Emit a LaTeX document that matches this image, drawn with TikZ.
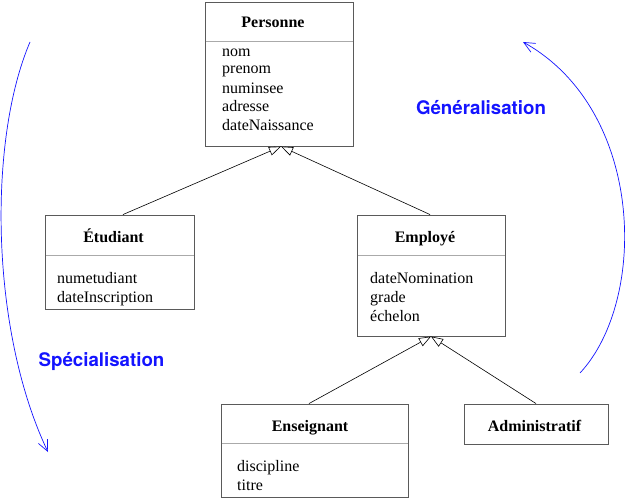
\documentclass[tikz,border=0pt]{standalone}
\usepackage{fontspec}
\setmainfont{Liberation Serif}
\newfontfamily\labelfont{TeX Gyre Heros}
\usetikzlibrary{arrows.meta}
\definecolor{boxgray}{RGB}{90,90,90}
\definecolor{divgray}{RGB}{170,170,170}
\definecolor{arcblue}{RGB}{20,20,255}
\tikzset{
  classbox/.style={draw=boxgray, line width=0.9pt, rectangle, inner sep=0pt},
  divider/.style={draw=divgray, line width=0.7pt},
  classtitle/.style={anchor=base, inner sep=0pt, font=\fontsize{16}{18}\selectfont\bfseries},
  attr/.style={anchor=base west, inner sep=0pt, font=\fontsize{16}{18}\selectfont},
  inherit/.style={draw=black, line width=0.6pt, -{Triangle[open, length=12pt, width=9pt, fill=white]}},
  cyclearc/.style={draw=arcblue, line width=0.7pt, -{Straight Barb[length=11pt, width=10pt, line width=0.7pt]}},
  arclabel/.style={text=arcblue, inner sep=0pt, font=\fontsize{18.7}{20}\selectfont\labelfont\bfseries}
}
\begin{document}
\begin{tikzpicture}[x=1pt, y=-1pt]
\useasboundingbox (0,0) rectangle (628,500);

% Personne
\node[classbox, minimum width=148pt, minimum height=144pt] (pers) at (279,74) {};
\draw[divider] (205.5,41) -- (352.5,41);
\node[classtitle] (persT) at (273,28) {Personne};
\node[attr] (pa1) at (222,57) {nom};
\node[attr] (pa2) at (222,74) {prenom};
\node[attr] (pa3) at (222,93) {numinsee};
\node[attr] (pa4) at (222,111) {adresse};
\node[attr] (pa5) at (222,130) {dateNaissance};

% Etudiant
\node[classbox, minimum width=149pt, minimum height=94pt] (etu) at (119.5,262) {};
\draw[divider] (45.5,255) -- (193.5,255);
\node[classtitle] (etuT) at (113.5,242) {Étudiant};
\node[attr] (ea1) at (57,283) {numetudiant};
\node[attr] (ea2) at (57,302.5) {dateInscription};

% Employe
\node[classbox, minimum width=148pt, minimum height=121pt] (emp) at (431,275.5) {};
\draw[divider] (357.5,255) -- (504.5,255);
\node[classtitle] (empT) at (425,242) {Employé};
\node[attr] (ma1) at (370,283) {dateNomination};
\node[attr] (ma2) at (370,302) {grade};
\node[attr] (ma3) at (370,321) {échelon};

% Enseignant
\node[classbox, minimum width=187pt, minimum height=93pt] (ens) at (314.5,450.5) {};
\draw[divider] (221.5,443) -- (407.5,443);
\node[classtitle] (ensT) at (310,431) {Enseignant};
\node[attr] (na1) at (237,471) {discipline};
\node[attr] (na2) at (237,490.5) {titre};

% Administratif
\node[classbox, minimum width=144pt, minimum height=40pt] (adm) at (536,424) {};
\node[classtitle] (admT) at (534.5,431) {Administratif};

% attach points
\coordinate (persB) at (pers.south -| 281,0);
\coordinate (empB) at (emp.south -| 431,0);
\coordinate (etuN) at (etu.north -| 123,0);
\coordinate (empN) at (emp.north -| 430,0);
\coordinate (ensN) at (ens.north -| 309,0);
\coordinate (admN) at (adm.north -| 536,0);

\draw[inherit] (etuN) -- (persB);
\draw[inherit] (empN) -- (persB);
\draw[inherit] (ensN) -- (empB);
\draw[inherit] (admN) -- (empB);

% arcs
\coordinate (lS) at (30,42);
\coordinate (lE) at (48,452);
\coordinate (rS) at (580,373);
\coordinate (rE) at (523,42);
\draw[cyclearc] (lS) .. controls (-12,140) and (-10,330) .. (lE);
\draw[cyclearc] (rS) .. controls (648,300) and (645,110) .. (rE);

\node[arclabel] (gen) at (481,108) {Généralisation};
\node[arclabel] (spe) at (101.5,362) {Spécialisation};
\end{tikzpicture}
\end{document}
